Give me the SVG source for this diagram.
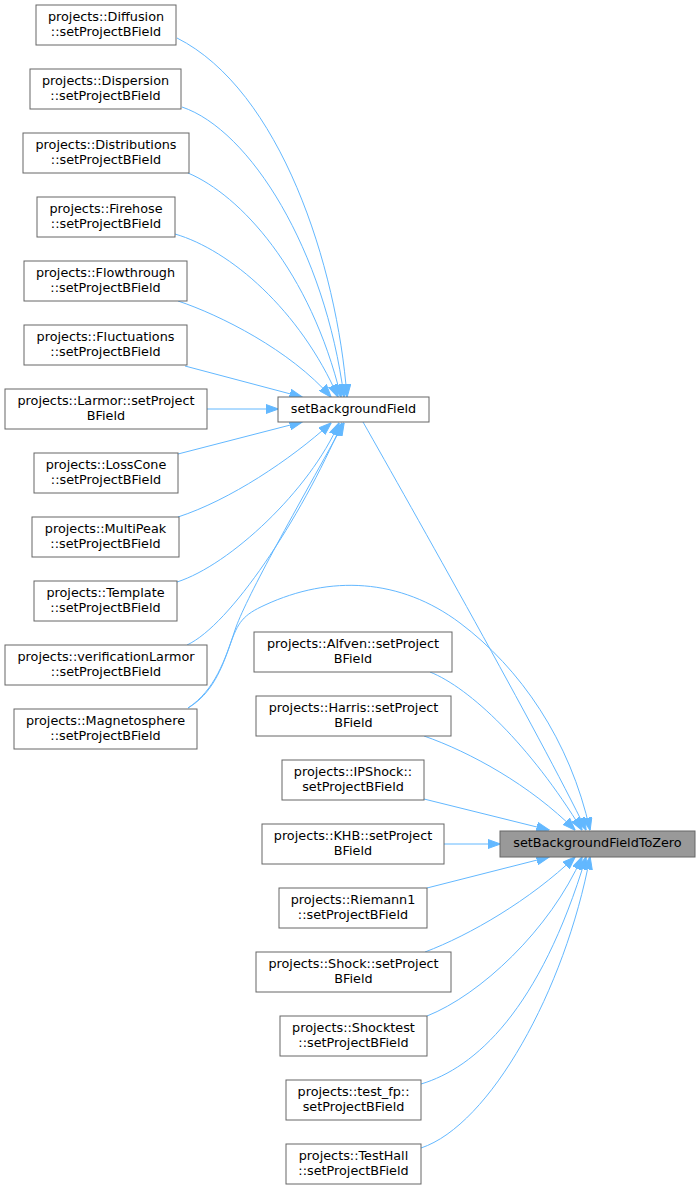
<svg xmlns="http://www.w3.org/2000/svg" width="700" height="1189" viewBox="0 0 700 1189">
<style>
.n rect{fill:#ffffff;stroke:#666666;stroke-width:1}
.hl rect{fill:#999999;stroke:#666666;stroke-width:1}
text{font-family:"DejaVu Sans","Liberation Sans",sans-serif;font-size:12.8px;fill:#000000;text-anchor:middle}
.e path{fill:none;stroke:#63b8ff;stroke-width:1;marker-end:url(#arr)}
</style>
<defs>
<marker id="arr" markerUnits="userSpaceOnUse" markerWidth="13" markerHeight="10" viewBox="0 0 13 10" refX="12.5" refY="5" orient="auto">
<path d="M0,0.3 L13,5 L0,9.7 z" fill="#63b8ff" stroke="#63b8ff" stroke-width="1"/>
</marker>
</defs>
<rect width="700" height="1189" fill="#ffffff"/>
<g class="e" id="edges">
<path d="M177,38 C280,90 337,265 347,397"/>
<path d="M182,107 C250,130 325,250 344,397"/>
<path d="M188,173 C240,195 310,270 341,397"/>
<path d="M175,234 C230,250 300,310 338,397"/>
<path d="M178,301 C220,315 290,350 331,397"/>
<path d="M185,366 L302,397"/>
<path d="M207,409 L278,409"/>
<path d="M178,454 L302,422"/>
<path d="M178,517 C230,500 290,460 331,423"/>
<path d="M177,582 C230,565 310,490 339,423"/>
<path d="M187,645 C230,625 300,520 342,423"/>
<path d="M188,708 C215,690 225,660 235,630 C245,600 290,520 344,423"/>
<path d="M188,708 C212,694 222,668 230,645 C238,622 243,615 265,605 C330,575 400,578 460,623 C520,668 570,740 590,830"/>
<path d="M363,422 C410,505 540,735 586,830"/>
<path d="M430,672 C470,688 530,745 582,830"/>
<path d="M424,736 C470,752 530,785 575,830"/>
<path d="M424,799 L549,830"/>
<path d="M444,844 L500,844"/>
<path d="M427,888 L549,857"/>
<path d="M425,952 C470,935 530,900 575,857"/>
<path d="M427,1016 C480,995 550,930 582,857"/>
<path d="M421,1084 C475,1068 540,1010 586,857"/>
<path d="M421,1148 C490,1125 565,990 590,857"/>
</g>
<g class="n" id="node_diffusion"><rect x="36" y="5" width="140" height="40"/><text x="106" y="20.5">projects::Diffusion</text><text x="106" y="35.5">::setProjectBField</text></g>
<g class="n" id="node_dispersion"><rect x="30" y="69" width="151" height="40"/><text x="105.5" y="84.5">projects::Dispersion</text><text x="105.5" y="99.5">::setProjectBField</text></g>
<g class="n" id="node_distributions"><rect x="23" y="133" width="166" height="40"/><text x="106" y="148.5">projects::Distributions</text><text x="106" y="163.5">::setProjectBField</text></g>
<g class="n" id="node_firehose"><rect x="37" y="197" width="138" height="40"/><text x="106" y="212.5">projects::Firehose</text><text x="106" y="227.5">::setProjectBField</text></g>
<g class="n" id="node_flowthrough"><rect x="24" y="261" width="163" height="40"/><text x="105.5" y="276.5">projects::Flowthrough</text><text x="105.5" y="291.5">::setProjectBField</text></g>
<g class="n" id="node_fluctuations"><rect x="24" y="325" width="163" height="40"/><text x="105.5" y="340.5">projects::Fluctuations</text><text x="105.5" y="355.5">::setProjectBField</text></g>
<g class="n" id="node_larmor"><rect x="5" y="389" width="202" height="40"/><text x="106" y="404.5">projects::Larmor::setProject</text><text x="106" y="419.5">BField</text></g>
<g class="n" id="node_losscone"><rect x="34" y="453" width="144" height="40"/><text x="106" y="468.5">projects::LossCone</text><text x="106" y="483.5">::setProjectBField</text></g>
<g class="n" id="node_multipeak"><rect x="32" y="517" width="147" height="40"/><text x="105.5" y="532.5">projects::MultiPeak</text><text x="105.5" y="547.5">::setProjectBField</text></g>
<g class="n" id="node_template"><rect x="34" y="581" width="143" height="40"/><text x="105.5" y="596.5">projects::Template</text><text x="105.5" y="611.5">::setProjectBField</text></g>
<g class="n" id="node_verificationlarmor"><rect x="5" y="645" width="202" height="40"/><text x="106" y="660.5">projects::verificationLarmor</text><text x="106" y="675.5">::setProjectBField</text></g>
<g class="n" id="node_magnetosphere"><rect x="14" y="709" width="183" height="40"/><text x="105.5" y="724.5">projects::Magnetosphere</text><text x="105.5" y="739.5">::setProjectBField</text></g>
<g class="n" id="node_setbackgroundfield"><rect x="278" y="397" width="151" height="25"/><text x="353.5" y="412.5">setBackgroundField</text></g>
<g class="n" id="node_alfven"><rect x="254" y="632" width="198" height="40"/><text x="353" y="647.5">projects::Alfven::setProject</text><text x="353" y="662.5">BField</text></g>
<g class="n" id="node_harris"><rect x="256" y="696" width="195" height="40"/><text x="353.5" y="711.5">projects::Harris::setProject</text><text x="353.5" y="726.5">BField</text></g>
<g class="n" id="node_ipshock"><rect x="282" y="760" width="142" height="40"/><text x="353" y="775.5">projects::IPShock::</text><text x="353" y="790.5">setProjectBField</text></g>
<g class="n" id="node_khb"><rect x="262" y="824" width="182" height="40"/><text x="353" y="839.5">projects::KHB::setProject</text><text x="353" y="854.5">BField</text></g>
<g class="hl" id="node_setbackgroundfieldtozero"><rect x="500" y="831" width="195" height="26"/><text x="597.5" y="847">setBackgroundFieldToZero</text></g>
<g class="n" id="node_riemann1"><rect x="279" y="888" width="148" height="40"/><text x="353" y="903.5">projects::Riemann1</text><text x="353" y="918.5">::setProjectBField</text></g>
<g class="n" id="node_shock"><rect x="256" y="952" width="195" height="40"/><text x="353.5" y="967.5">projects::Shock::setProject</text><text x="353.5" y="982.5">BField</text></g>
<g class="n" id="node_shocktest"><rect x="280" y="1016" width="147" height="40"/><text x="353.5" y="1031.5">projects::Shocktest</text><text x="353.5" y="1046.5">::setProjectBField</text></g>
<g class="n" id="node_test_fp"><rect x="286" y="1080" width="135" height="40"/><text x="353.5" y="1095.5">projects::test_fp::</text><text x="353.5" y="1110.5">setProjectBField</text></g>
<g class="n" id="node_testhall"><rect x="286" y="1144" width="135" height="40"/><text x="353.5" y="1159.5">projects::TestHall</text><text x="353.5" y="1174.5">::setProjectBField</text></g>
</svg>
